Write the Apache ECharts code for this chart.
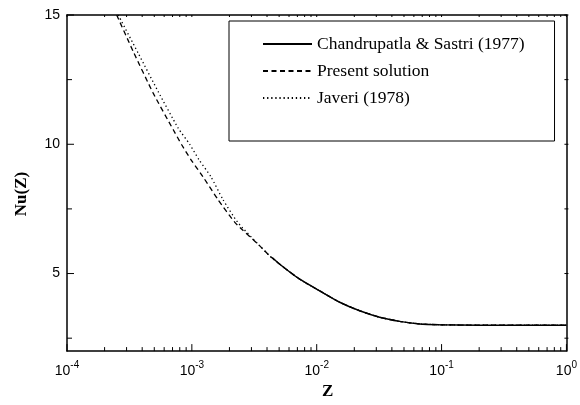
<!DOCTYPE html>
<html>
<head>
<meta charset="utf-8">
<script src="https://cdn.jsdelivr.net/npm/echarts@6/dist/echarts.min.js"></script>
<style>
html, body { margin: 0; padding: 0; background: #fff; }
#chart { width: 580px; height: 405px; }
</style>
</head>
<body>
<div id="chart"></div>
<script>
var seriesNames = ["Chandrupatla & Sastri (1977)", "Present solution", "Javeri (1978)"];

// Chandrupatla & Sastri (1977) - solid
var chandZ = [0.0044, 0.00506, 0.00731, 0.01057, 0.01528, 0.02208, 0.0319, 0.0461, 0.0667, 0.0964, 0.2, 0.5, 1];
var chandNu = [5.62, 5.36, 4.78, 4.33, 3.89, 3.56, 3.31, 3.15, 3.05, 3.02, 3.0, 3.0, 3.0];

// Present solution - dashed
var presZ = [0.00025, 0.000339, 0.00049, 0.000708, 0.000827, 0.000982, 0.001225, 0.001614, 0.00221, 0.0035, 0.00421, 0.00506, 0.00731, 0.01057, 0.01528, 0.02208, 0.0319, 0.0461, 0.0667, 0.0964, 0.2, 0.5, 1];
var presNu = [15, 13.59, 11.98, 10.57, 9.99, 9.41, 8.75, 7.87, 6.98, 6.07, 5.68, 5.36, 4.78, 4.33, 3.89, 3.56, 3.31, 3.15, 3.05, 3.02, 3.0, 3.0, 3.0];

// Javeri (1978) - dotted
var javZ = [0.000257, 0.000372, 0.000537, 0.000776, 0.000964, 0.001138, 0.001419, 0.00177, 0.00233, 0.0035, 0.00421, 0.00506, 0.00731, 0.01057, 0.01528, 0.02208, 0.0319, 0.0461, 0.0667, 0.0964, 0.2, 0.5, 1];
var javNu = [15, 13.52, 12.04, 10.63, 9.99, 9.41, 8.75, 7.87, 6.98, 6.07, 5.68, 5.36, 4.78, 4.33, 3.89, 3.56, 3.31, 3.15, 3.05, 3.02, 3.0, 3.0, 3.0];

// axis ticks
var xMajor = [0.0001, 0.001, 0.01, 0.1, 1];
var xMinor = [
    0.0002, 0.0003, 0.0004, 0.0005, 0.0006, 0.0007, 0.0008, 0.0009,
    0.002, 0.003, 0.004, 0.005, 0.006, 0.007, 0.008, 0.009,
    0.02, 0.03, 0.04, 0.05, 0.06, 0.07, 0.08, 0.09,
    0.2, 0.3, 0.4, 0.5, 0.6, 0.7, 0.8, 0.9
];
var yMajor = [5, 10, 15];
var yMinor = [2.5, 7.5, 12.5];

var xMin = 0.0001, xMax = 1, yMin = 2, yMax = 15;

function pairs(xs, ys) {
    return xs.map(function (x, i) { return [x, ys[i]]; });
}

// tick marks: [x, y, kind(0 = x tick, 1 = y tick), major]
var tickData = [];
xMajor.forEach(function (v) { tickData.push([v, yMin, 0, 1]); });
xMinor.forEach(function (v) { tickData.push([v, yMin, 0, 0]); });
yMajor.forEach(function (v) { tickData.push([xMin, v, 1, 1]); });
yMinor.forEach(function (v) { tickData.push([xMin, v, 1, 0]); });

var black = "#000";
var serif = "Liberation Serif";
var sans = "Liberation Sans";

function renderTick(params, api) {
    var kind = api.value(2);
    var major = api.value(3);
    var st = { stroke: black, lineWidth: 1 };
    var p = api.coord([api.value(0), api.value(1)]);
    var children = [];
    if (kind === 0) {
        var len = major ? 7 : 4;
        var t = api.coord([api.value(0), yMax]);
        children.push({ type: "line", shape: { x1: p[0], y1: p[1], x2: p[0], y2: p[1] - len }, style: st });
        children.push({ type: "line", shape: { x1: t[0], y1: t[1], x2: t[0], y2: t[1] + 2 }, style: st });
    } else {
        var len2 = major ? 7 : 5;
        var r = api.coord([xMax, api.value(1)]);
        children.push({ type: "line", shape: { x1: p[0], y1: p[1], x2: p[0] + len2, y2: p[1] }, style: st });
        children.push({ type: "line", shape: { x1: r[0] - 2, y1: r[1], x2: r[0] + 2, y2: r[1] }, style: st });
    }
    return { type: "group", children: children };
}

var dom = document.getElementById("chart");
var myChart = echarts.init(dom, null, { renderer: "canvas" });

var option = {
    animation: false,
    backgroundColor: "#fff",
    grid: { left: 67, right: 13, top: 15, bottom: 53 },
    legend: {
        data: seriesNames,
        orient: "vertical",
        left: 229,
        top: 21,
        padding: [14, 30, 34, 33],
        itemWidth: 49,
        itemHeight: 14,
        itemGap: 9,
        borderColor: black,
        borderWidth: 1,
        selectedMode: false,
        itemStyle: { color: "rgba(0,0,0,0)", borderWidth: 0, opacity: 0 },
        textStyle: { fontFamily: serif, fontSize: 17.5, lineHeight: 14, color: black }
    },
    xAxis: [
        {
            type: "log", logBase: 10, position: "bottom",
            min: xMin, max: xMax,
            axisLine: { show: true, lineStyle: { color: black, width: 1.5 } },
            axisTick: { show: false },
            splitLine: { show: false },
            axisLabel: {
                show: true,
                customValues: xMajor,
                margin: 9,
                formatter: function (v) {
                    return "{b|10}{s|" + Math.round(Math.log10(v)) + "}";
                },
                rich: {
                    b: { fontFamily: sans, fontSize: 14, color: black, lineHeight: 18, verticalAlign: "bottom" },
                    s: { fontFamily: sans, fontSize: 10, color: black, lineHeight: 18, verticalAlign: "top" }
                }
            },
            name: "Z",
            nameLocation: "middle",
            nameGap: 31,
            nameTextStyle: { fontFamily: serif, fontSize: 17, fontWeight: "bold", color: black, padding: [0, 0, 0, 22] }
        },
        {
            type: "log", logBase: 10, position: "top",
            min: xMin, max: xMax,
            axisLine: { show: true, lineStyle: { color: black, width: 1.5 } },
            axisTick: { show: false },
            axisLabel: { show: false },
            splitLine: { show: false }
        }
    ],
    yAxis: [
        {
            type: "value", position: "left",
            min: yMin, max: yMax,
            axisLine: { show: true, lineStyle: { color: black, width: 1.5 } },
            axisTick: { show: false },
            splitLine: { show: false },
            axisLabel: {
                show: true,
                customValues: yMajor,
                margin: 7,
                fontFamily: sans,
                fontSize: 14,
                color: black
            },
            name: "Nu(Z)",
            nameLocation: "middle",
            nameGap: 37,
            nameTextStyle: { fontFamily: serif, fontSize: 17, fontWeight: "bold", color: black, padding: [0, 22, 0, 0] }
        },
        {
            type: "value", position: "right",
            min: yMin, max: yMax,
            axisLine: { show: true, lineStyle: { color: black, width: 1.5 } },
            axisTick: { show: false },
            axisLabel: { show: false },
            splitLine: { show: false }
        }
    ],
    series: [
        {
            name: seriesNames[2],
            type: "line",
            color: black,
            symbol: "none",
            smooth: 0.2,
            clip: true,
            lineStyle: { color: black, width: 1.3, type: [1.3, 2.8] },
            data: pairs(javZ, javNu)
        },
        {
            name: seriesNames[1],
            type: "line",
            color: black,
            symbol: "none",
            smooth: 0.2,
            clip: true,
            lineStyle: { color: black, width: 1.3, type: [5, 3.5] },
            data: pairs(presZ, presNu)
        },
        {
            name: seriesNames[0],
            type: "line",
            color: black,
            symbol: "none",
            smooth: 0.2,
            clip: true,
            lineStyle: { color: black, width: 1.5, type: "solid" },
            data: pairs(chandZ, chandNu)
        },
        {
            name: "ticks",
            type: "custom",
            silent: true,
            renderItem: renderTick,
            data: tickData,
            z: 5
        }
    ]
};

myChart.setOption(option);
</script>
</body>
</html>
